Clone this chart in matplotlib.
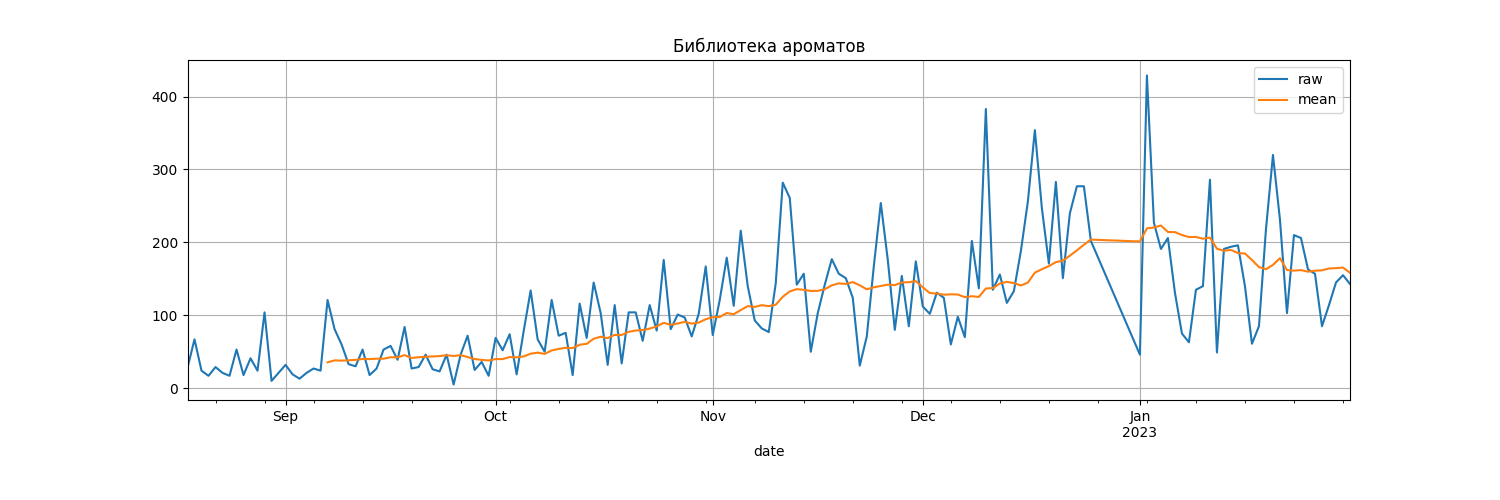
import matplotlib
matplotlib.use("Agg")
import matplotlib.pyplot as plt
import matplotlib.dates as mdates
import pandas as pd

# Data (Aug 31 and Dec 26-31 have no row)
dates_part1 = pd.date_range("2022-08-18", "2022-12-25", freq="D").drop(pd.Timestamp("2022-08-31"))
dates_part2 = pd.date_range("2023-01-01", "2023-01-31", freq="D")

raw_part1 = [
    28, 67, 24, 17, 29, 21, 17, 53, 18, 41,
    24, 104, 10, 32, 19, 13, 21, 27, 24,
    121, 81, 60, 33, 30, 53, 18, 27, 53, 58,
    39, 84, 27, 29, 46, 26, 23, 46, 5, 46,
    72, 25, 36, 17, 69, 52, 74, 19, 78, 134,
    67, 50, 121, 72, 76, 18, 116, 69, 145, 103,
    32, 114, 34, 104, 104, 65, 114, 79, 176, 81,
    101, 97, 71, 102, 167, 73, 121, 179, 113, 216,
    140, 93, 82, 77, 144, 282, 261, 142, 157, 50,
    103, 142, 177, 157, 151, 124, 31, 71, 167, 254,
    176, 80, 154, 85, 174, 112, 102, 131, 124, 60,
    98, 70, 202, 137, 383, 135, 156, 117, 133, 188,
    256, 354, 247, 171, 283, 151, 240, 277, 277, 202,
]
raw_part2 = [
    46, 429, 227, 191, 206, 131, 75, 63, 135, 140,
    286, 49, 191, 194, 196, 140, 61, 85, 218, 320,
    231, 103, 210, 206, 163, 157, 85, 114, 145, 155, 143,
]
window = 20

title = "Библиотека ароматов"
month_labels = {9: "Sep", 10: "Oct", 11: "Nov", 12: "Dec", 1: "Jan\n2023"}

df = pd.DataFrame(
    {"raw": raw_part1 + raw_part2},
    index=pd.DatetimeIndex(list(dates_part1) + list(dates_part2), name="date"),
)
df["mean"] = df["raw"].rolling(window).mean()

fig, ax = plt.subplots(figsize=(15, 5), dpi=100)
fig.subplots_adjust(bottom=0.2)
ax.plot(df.index, df["raw"], color="C0", label="raw")
ax.plot(df.index, df["mean"], color="C1", label="mean")
ax.set_xlim(df.index[0], df.index[-1])

ax.xaxis.set_major_locator(mdates.MonthLocator())
ax.xaxis.set_minor_locator(mdates.WeekdayLocator(byweekday=mdates.MO))


def fmt(x, pos=None):
    d = mdates.num2date(x)
    return month_labels.get(d.month, d.strftime("%b"))


ax.xaxis.set_major_formatter(plt.FuncFormatter(fmt))
ax.xaxis.set_minor_formatter(plt.NullFormatter())
for lbl in ax.get_xticklabels():
    lbl.set_ha("center")

ax.grid(True)
ax.set_xlabel("date")
ax.set_title(title)
ax.legend(loc="upper right")

fig.savefig("out.png", dpi=100)
